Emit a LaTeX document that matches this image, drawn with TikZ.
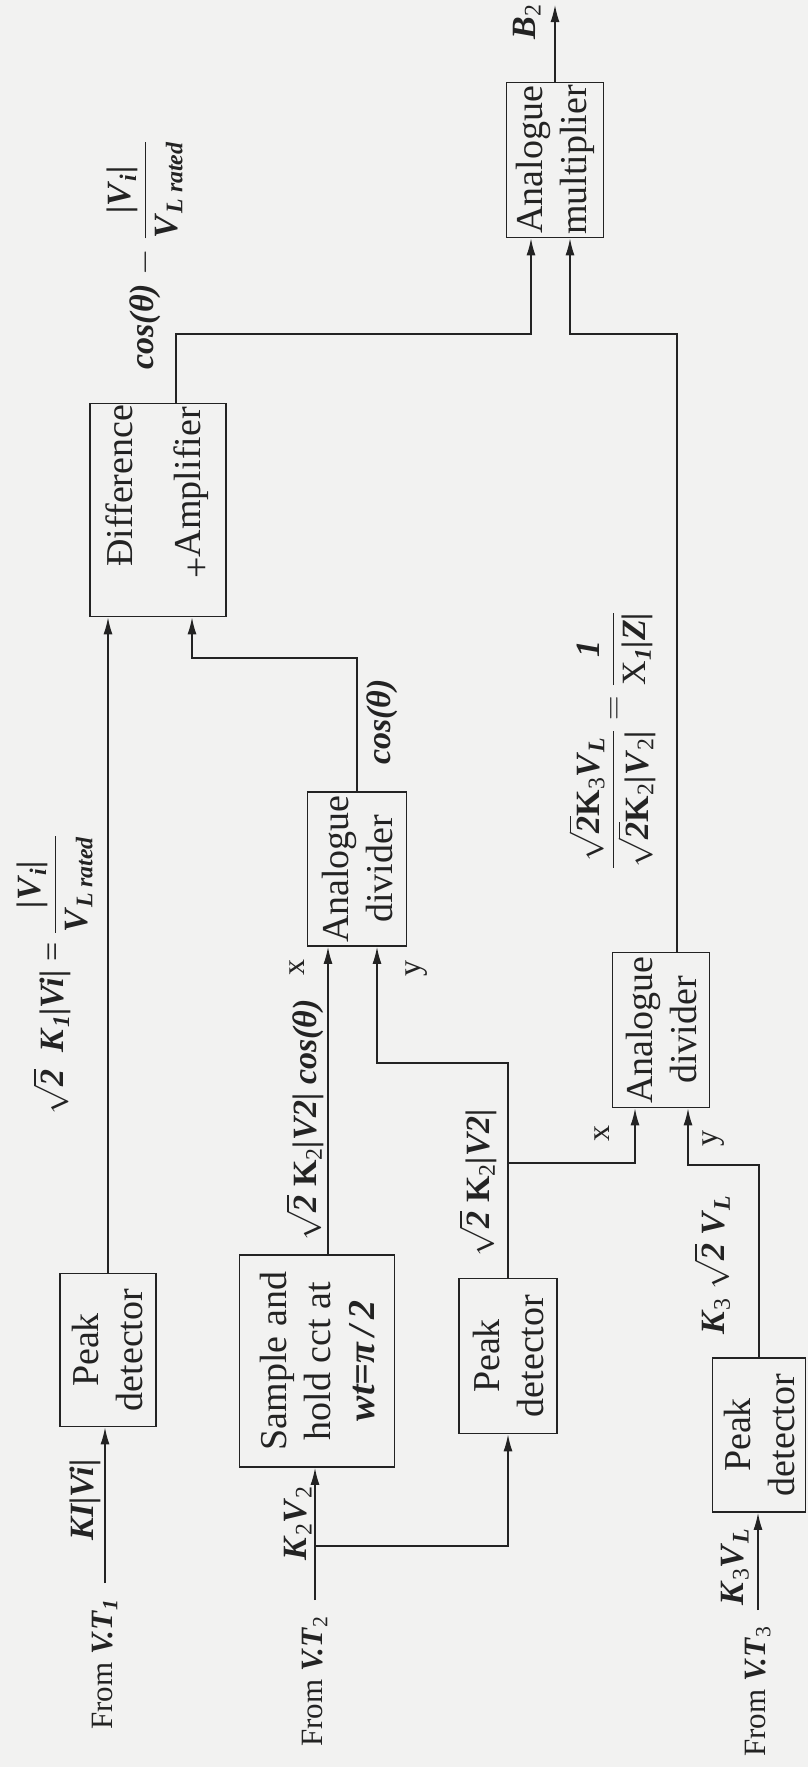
\RequirePackage{fix-cm}
\documentclass[tikz,border=0pt]{standalone}
\usepackage{amsmath}
\usepackage{fontspec}
\setmainfont{Liberation Serif}
\usetikzlibrary{arrows.meta}
\definecolor{ink}{RGB}{35,35,35}
\definecolor{bgc}{RGB}{242,242,241}
\newcommand{\bi}[1]{\textbf{\textit{#1}}}
\newcommand{\sbs}[1]{\textsubscript{#1}}
\newcommand{\rtwo}{$\sqrt{\text{\bi{2}}}$}
\tikzset{
  blk/.style 2 args={draw=ink, line width=1.8pt, rotate=90, inner sep=0pt, align=center,
    minimum width=#2, minimum height=#1, text=ink, font=\fontsize{38}{44}\selectfont},
  lbl/.style={rotate=90, inner sep=1pt, text=ink, font=\fontsize{34}{40}\selectfont},
  plain/.style={rotate=90, inner sep=1pt, text=ink, font=\fontsize{32}{36}\selectfont},
  src/.style={rotate=90, inner xsep=16pt, inner ysep=2pt, anchor=east, text=ink,
    font=\fontsize{31}{36}\selectfont},
  wire/.style={draw=ink, line width=1.4pt},
  arr/.style={wire, -{Latex[length=17pt,width=9pt]}},
}
\begin{document}
\begin{tikzpicture}[x=1pt, y=-1pt]
\fill[bgc] (0,0) rectangle (808,1767);
\useasboundingbox (0,0) rectangle (808,1767);

% blocks
\node[blk={96pt}{153pt}] (pk1) at (108,1350) {Peak\\detector};
\node[blk={155pt}{212pt}] (sh) at (317,1361) {Sample and\\hold cct at\\\bi{wt=π\,/\,2}};
\node[blk={98pt}{155pt}] (pk2) at (508,1356) {Peak\\detector};
\node[blk={93pt}{154pt}] (pk3) at (759,1435) {Peak\\detector};
\node[blk={99pt}{154pt}] (div1) at (357,869) {Analogue\\divider};
\node[blk={97pt}{155pt}] (div2) at (661,1030) {Analogue\\divider};
\node[blk={136pt}{213pt}, text width=213pt, align=left] (diff) at (158,510)
  {\hspace*{50pt}Đifference\\[24pt]\hspace*{38pt}\raisebox{-9pt}{+}Amplifier};
\node[blk={97pt}{155pt}] (mult) at (555,160) {Analogue\\multiplier};

% sources
\node[src] (vt1) at (105,1583) {From \bi{V.T}\sbs{\bi{1}}};
\node[src] (vt2) at (315,1600) {From \bi{V.T}\sbs{2}};
\node[src] (vt3) at (758,1610) {From \bi{V.T}\sbs{3}};

% wires
\draw[arr] (vt1.east) -- (vt1.east |- pk1.west);
\draw[arr] (pk1.east) -- (pk1.east |- diff.west);
\draw[arr] (vt2.east) -- (vt2.east |- sh.west);
\coordinate (j2) at (315,1546);
\draw[arr] (j2) -| (pk2.west);
\draw[arr] (vt3.east) -- (vt3.east |- pk3.west);
\draw[arr] ([xshift=11pt]sh.east) -- ([xshift=11pt]sh.east |- div1.west);
\coordinate (t1) at (377,1063);
\draw[arr] (pk2.east) |- (t1) -- (t1 |- div1.west);
\coordinate (j3) at (508,1163);
\draw[arr] (j3) -| ([xshift=-26pt]div2.west);
\coordinate (t2) at (688,1165);
\draw[arr] (pk3.east) |- (t2) -- (t2 |- div2.west);
\coordinate (t3) at (192,658);
\draw[arr] (div1.east) |- (t3) -- (t3 |- diff.west);
\coordinate (t4) at (531,334);
\draw[arr] ([xshift=18pt]diff.east) |- (t4) -- (t4 |- mult.west);
\coordinate (t5) at (570,334);
\draw[arr] ([xshift=16pt]div2.east) |- (t5) -- (t5 |- mult.west);
\coordinate (out) at (555,5);
\draw[arr] (mult.east) -- (out);

% labels
\node[lbl] (lk1) at (85,1500) {\bi{KI|Vi|}};
\node[lbl] (lk2) at (298,1523) {\bi{K}\sbs{2}\bi{V}\sbs{2}};
\node[lbl] (lk3) at (735,1567) {\bi{K}\sbs{3}\bi{V}\sbs{\bi{L}}};
\node[lbl] (f1) at (55,975) {\rtwo\ \ \bi{K}\sbs{\bi{1}}\bi{|Vi|} = $\dfrac{\text{\bi{|V}\sbs{\bi{i}}\bi{|}}}{\text{\bi{V}\sbs{\bi{L rated}}}}$};
\node[lbl] (f2) at (305,1120) {\rtwo\ \textbf{K}\sbs{2}\bi{|V2|} \bi{cos(θ)}};
\node[plain] (lx1) at (297,967) {x};
\node[plain] (ly1) at (417,968) {y};
\node[lbl] (lcos) at (382,722) {\bi{cos(θ)}};
\node[lbl] (lk2b) at (478,1183) {\rtwo\ \textbf{K}\sbs{2}\bi{|V2|}};
\node[plain] (lx2) at (602,1133) {x};
\node[plain] (ly2) at (714,1138) {y};
\node[lbl] (lk3b) at (712,1265) {\bi{K}\sbs{3} \rtwo\ \bi{V}\sbs{\bi{L}}};
\node[lbl] (f3) at (612,740) {$\dfrac{\sqrt{\text{\bi{2}}}\text{\textbf{K}\sbs{3}\bi{V}\sbs{\bi{L}}}}{\sqrt{\text{\bi{2}}}\text{\textbf{K}\sbs{2}\bi{|V}\sbs{2}\bi{|}}} = \dfrac{\text{\bi{1}}}{\text{X\sbs{\bi{1}}\bi{|Z|}}}$};
\node[lbl] (f4) at (145,255) {\bi{cos(θ)} $-\;\dfrac{\text{\bi{|V}\sbs{\bi{i}}\bi{|}}}{\text{\bi{V}\sbs{\bi{L rated}}}}$};
\node[lbl] (b2) at (527,22) {\bi{B}\sbs{2}};
\end{tikzpicture}
\end{document}
